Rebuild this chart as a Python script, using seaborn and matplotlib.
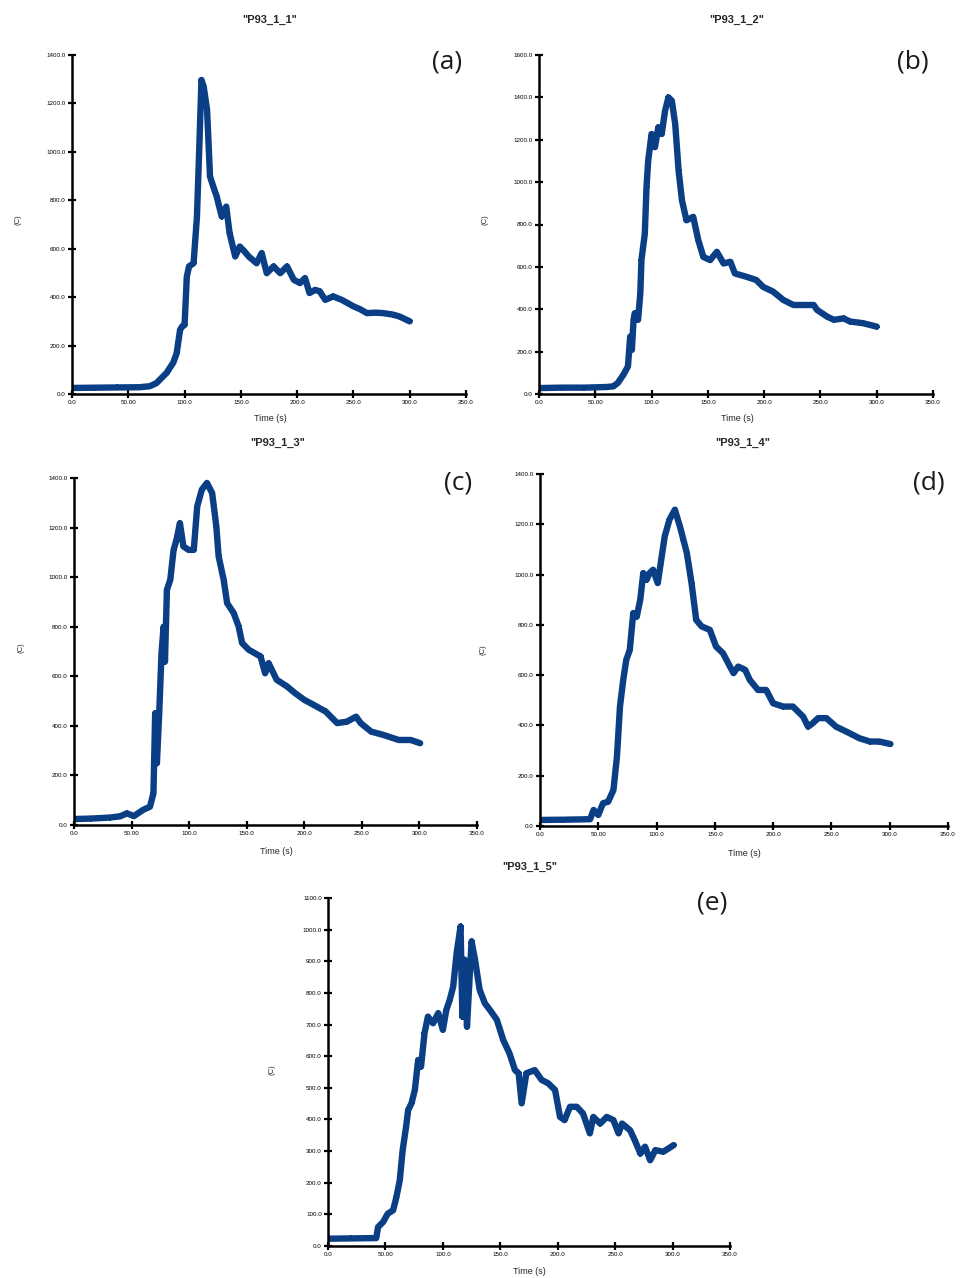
import numpy as np
import pandas as pd
import matplotlib
matplotlib.use("Agg")
import matplotlib.pyplot as plt
import seaborn as sns

# ---------------- data ----------------
t_a = [0, 20, 40, 60, 69, 75, 84, 90, 93, 96, 98, 100, 102, 104, 108, 111, 113, 115, 117, 120, 122.6,
       126, 128.5, 133, 137, 140, 145, 149, 153, 157, 164, 168.5, 173, 179, 185, 191, 197, 202.5, 207,
       211, 216, 220, 225, 232, 239.5, 245, 250, 256, 262, 270, 276.5, 285, 291, 300]
T_a = [25, 26, 27, 28, 32, 45, 87, 130, 169, 265, 280, 285, 485, 527, 540, 733, 1008, 1297, 1269, 1173, 898,
       850, 816, 733, 774, 664, 568, 609, 590, 568, 540, 582, 499, 527, 499, 527, 472, 458, 479,
       417, 430, 424, 389, 403, 389, 375, 362, 350, 334, 336, 334, 328, 320, 300]

t_b = [0, 20, 40, 60, 66, 70, 75, 79, 81, 82.5, 84, 85, 88, 90, 91, 94, 95.5, 97, 100, 103, 106, 109,
       112, 115, 118, 121, 124, 127, 131, 137, 141.5, 146, 152, 158, 164, 170, 174, 184.5, 193, 199,
       208, 217, 226, 235, 244, 247, 256, 262, 270.5, 276.5, 288, 300]
T_b = [28, 30, 30, 33, 36, 52, 91, 130, 271, 208, 350, 381, 350, 475, 632, 757, 976, 1102, 1227, 1165, 1259, 1227,
       1337, 1400, 1384, 1274, 1055, 914, 820, 836, 726, 647, 632, 671, 616, 624, 569, 553, 538, 506,
       483, 444, 420, 420, 420, 397, 365, 350, 357, 342, 334, 318]

t_c = [0, 15, 31, 40, 46, 52, 60, 66, 69, 70.5, 72, 74, 76, 77.8, 79, 80.7, 83.6, 86.5, 89, 92, 95,
       99.5, 104, 107, 111, 115.5, 120, 123.6, 125.6, 130, 133, 138.7, 143, 146, 151.8, 162, 166, 169,
       176, 185, 192, 200, 208, 218.5, 228.6, 237, 245, 249, 258, 269, 282, 292.5, 300.6]
T_c = [24, 26, 30, 35, 47, 36, 61, 74, 128, 451, 249, 451, 693, 800, 659, 949, 989, 1110, 1150, 1218, 1124,
       1110, 1110, 1285, 1353, 1380, 1339, 1205, 1084, 989, 895, 855, 801, 734, 707, 680, 612, 653,
       586, 559, 532, 505, 485, 458, 411, 417, 437, 411, 377, 363, 343, 343, 330]

t_d = [0, 20, 43, 46, 50, 54, 58.5, 63, 66, 68.6, 71.4, 74, 77, 80, 83, 86, 88.6, 91.4, 94, 97, 101,
       104, 107, 111, 115.7, 120, 123, 126, 130, 134, 138.6, 145.7, 151, 157, 163, 166, 170, 176, 180,
       187, 194, 200, 208.6, 217, 225.7, 230, 234, 238.6, 245.7, 254, 263, 274, 283, 291, 300.6]
T_d = [24, 25, 27, 64, 44, 90, 97, 143, 276, 475, 581, 661, 700, 847, 833, 900, 1006, 979, 1006, 1019, 966,
       1059, 1152, 1218, 1258, 1192, 1139, 1085, 966, 820, 794, 780, 714, 687, 634, 608, 634, 621, 581,
       541, 541, 488, 475, 475, 435, 395, 409, 429, 429, 395, 375, 349, 336, 336, 326]

t_e = [0, 20, 42, 43.6, 48, 52, 56.7, 59.6, 62.5, 65, 68, 69.8, 72.7, 75.6, 78.5, 81, 84, 87, 91.5, 96,
       100, 103, 106, 109, 112, 115.4, 117, 119, 121, 125, 128, 132, 136.6, 141, 147, 152.6, 158,
       162.8, 166, 168.6, 172.7, 180, 186, 191.8, 197.7, 202, 206, 210.7, 216.6, 222, 228, 231, 237,
       242.7, 248.5, 253, 256, 263, 267, 272, 276, 280.5, 285, 292, 301]
T_e = [23, 24, 25, 60, 76, 102, 113, 155, 208, 303, 377, 430, 451, 493, 588, 567, 672, 725, 704, 736,
       683, 746, 778, 820, 926, 1010, 725, 905, 693, 963, 905, 810, 767, 746, 715, 651, 609,
       556, 546, 451, 546, 556, 525, 514, 493, 408, 398, 440, 440, 419, 356, 408, 387,
       408, 398, 356, 387, 366, 335, 292, 314, 271, 303, 298, 319]

titles = ['"P93_1_1"', '"P93_1_2"', '"P93_1_3"', '"P93_1_4"', '"P93_1_5"']
letters = ["(a)", "(b)", "(c)", "(d)", "(e)"]
x_ticks = [0, 50, 100, 150, 200, 250, 300, 350]
x_ticklabels = ["0.0", "50.00", "100.0", "150.0", "200.0", "250.0", "300.0", "350.0"]
y_max = [1400, 1600, 1400, 1400, 1100]
y_step = [200, 200, 200, 200, 100]
x_label = "Time (s)"
y_label = "(C)"

series = [(t_a, T_a), (t_b, T_b), (t_c, T_c), (t_d, T_d), (t_e, T_e)]

# ---------------- layout ----------------
W, H = 960, 1278
sns.set_style("ticks")
plt.rcParams["font.family"] = ["Liberation Sans", "DejaVu Sans"]

fig = plt.figure(figsize=(W / 100, H / 100), dpi=100)

# axes boxes in pixels: left, right, top(ymax), bottom(y=0)
boxes = [(72, 466, 55, 394), (539, 933, 55, 394), (74, 477, 478, 825),
         (540, 948, 474, 826), (328, 730, 898, 1246)]
title_pos = [(270, 20), (737, 20), (278, 443), (743, 443), (530, 867)]
letter_pos = [(447, 62), (913, 62), (458, 483), (929, 483), (712, 903)]
xlabel_pos = [(270, 418), (737, 418), (276, 852), (744, 853), (529, 1272)]
ylabel_pos = [(18, 220), (485, 220), (21, 648), (483, 650), (272, 1070)]

color = "#0a3f86"

def fx(px):
    return px / W

def fy(py):
    return 1 - py / H

for i, ((t, T), (l, r, tp, bt)) in enumerate(zip(series, boxes)):
    ax = fig.add_axes([fx(l), fy(bt), fx(r - l), (bt - tp) / H])
    df = pd.DataFrame({"t": t, "T": T})
    sns.lineplot(data=df, x="t", y="T", ax=ax, color=color, linewidth=4.6,
                 marker="+", markersize=5, markeredgewidth=1.4, markeredgecolor=color,
                 sort=False, estimator=None)
    ax.set_xlim(0, 350)
    ax.set_ylim(0, y_max[i])
    ax.set_xticks(x_ticks)
    ax.set_xticklabels(x_ticklabels)
    yt = list(range(0, y_max[i] + 1, y_step[i]))
    ax.set_yticks(yt)
    ax.set_yticklabels([f"{v:.1f}" for v in yt])
    ax.tick_params(axis="both", direction="inout", length=6, width=1.6, labelsize=4.5,
                   pad=1.5, colors="black")
    for s in ["top", "right"]:
        ax.spines[s].set_visible(False)
    for s in ["left", "bottom"]:
        ax.spines[s].set_linewidth(1.8)
        ax.spines[s].set_color("black")
    ax.set_xlabel("")
    ax.set_ylabel("")
    ax.patch.set_alpha(0)

    fig.text(fx(title_pos[i][0]), fy(title_pos[i][1]), titles[i], ha="center", va="center",
             fontsize=8, fontweight="bold")
    fig.text(fx(letter_pos[i][0]), fy(letter_pos[i][1]), letters[i], ha="center", va="center",
             fontsize=19, color="#1b1b1b", family=["Open Sans", "DejaVu Sans"])
    fig.text(fx(xlabel_pos[i][0]), fy(xlabel_pos[i][1]), x_label, ha="center", va="center",
             fontsize=6.5)
    fig.text(fx(ylabel_pos[i][0]), fy(ylabel_pos[i][1]), y_label, ha="center", va="center",
             fontsize=5.5, rotation=90)

fig.savefig("out.png", dpi=100)
